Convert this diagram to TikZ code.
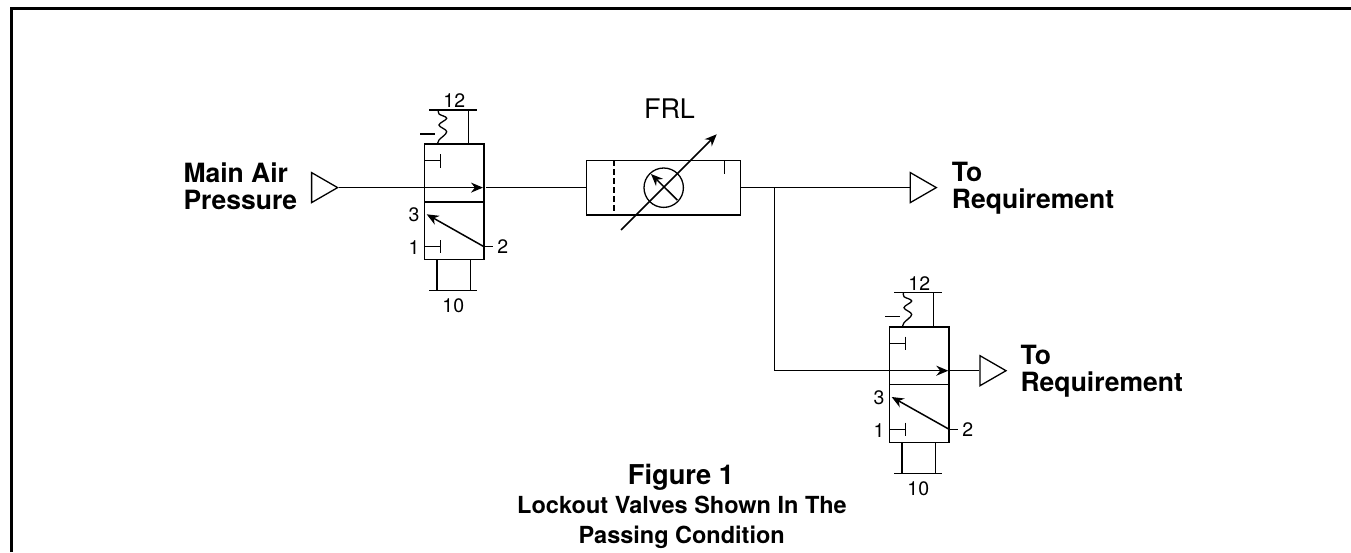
\documentclass[tikz,border=0pt]{standalone}
\usepackage{fontspec}
\setmainfont{TeX Gyre Heros}
\usetikzlibrary{arrows.meta,shapes.geometric}
\tikzset{
  pipe/.style={draw,line width=1.5pt},
  flow/.style={draw,line width=1.5pt,-{Stealth[length=12pt,width=10pt]}},
  valvebox/.style={draw,line width=1.5pt,rectangle,inner sep=0pt,minimum width=59.7pt,minimum height=115.7pt},
  port/.style={draw,line width=1.3pt,isosceles triangle,isosceles triangle stretches,inner sep=0pt,minimum width=30pt,minimum height=26pt,anchor=apex},
  num/.style={inner sep=0pt,font=\fontsize{19.5}{20}\selectfont},
  bigtext/.style={inner sep=0pt,align=left,anchor=west,font=\fontsize{26.5}{26.6}\selectfont\bfseries}
}
\begin{document}
\begin{tikzpicture}[x=1pt,y=-1pt]
\useasboundingbox (0,0) rectangle (1351,552);
% frame
\coordinate (fa) at (11.2,552);
\coordinate (fb) at (11.2,8.8);
\coordinate (fc) at (1351,8.8);
\path[draw,line width=2.8pt] (fa) -- (fb) -- (fc);

% first valve
\node[valvebox] (v1) at (454.15,201.85) {};
\node[port] (in) at (339.3,187.6) {};
\coordinate (a1) at (483,187.6);
\coordinate (b1) at (486,187.6);
\path[flow] (in.apex) -- (a1);
\path[pipe] (424.3,202) -- (484,202);
\path[pipe] (424.3,160.7) -- (440.7,160.7);
\path[pipe] (440.7,154) -- (440.7,167.7);
\path[pipe] (424.3,246.7) -- (440.7,246.7);
\path[pipe] (440.7,240) -- (440.7,253);
\coordinate (c1) at (484,246.7);
\coordinate (d1) at (426.7,214.3);
\path[flow] (c1) -- (d1);
\path[pipe] (484,246.7) -- (492.7,246.7);
\path[pipe] (429.3,110) -- (476.7,110);
\path[pipe] (468.7,110) -- (468.7,144);
\path[draw,line width=1.3pt] plot[smooth,tension=0.6] coordinates {(438.5,110) (439,114) (446.7,118.3) (439,125) (446.7,131.7) (439,140) (437.7,144)};
\path[pipe] (420,134) -- (435,134);
\path[pipe] (437,259.7) -- (437,290.7);
\path[pipe] (470.3,259.7) -- (470.3,290.7);
\path[pipe] (429.3,290.7) -- (477,290.7);
\node[num] (n12a) at (454.3,101) {12};
\node[num] (n10a) at (453.3,305.7) {10};
\node[num] (n3a) at (414,215) {3};
\node[num] (n1a) at (414,247.7) {1};
\node[num] (n2a) at (502.7,246.7) {2};

% FRL
\node[draw,line width=1.5pt,rectangle,inner sep=0pt,minimum width=154.4pt,minimum height=54.7pt] (frl) at (663.5,187.6) {};
\node[draw,line width=1.3pt,circle,inner sep=0pt,minimum size=39.4pt] (gauge) at (663.7,187.7) {};
\path[pipe] (b1) -- (frl.west);
\path[pipe,dash pattern=on 6pt off 3pt] (614,160.3) -- (614,215);
\path[pipe] (724.7,160.3) -- (724.7,174.3);
\coordinate (e1) at (621,230);
\coordinate (e2) at (716.7,134.3);
\path[flow] (e1) -- (e2);
\coordinate (g1) at (677.3,200);
\coordinate (g2) at (651,174);
\path[flow] (g1) -- (g2);
\node[inner sep=0pt,font=\fontsize{27}{27}\selectfont] (frltxt) at (669.5,108.3) {FRL};

% outlets
\node[port] (out1) at (938,187.6) {};
\coordinate (tee) at (774.7,187.6);
\path[pipe] (frl.east) -- (out1.lower side);
\node[valvebox] (v2) at (919.3,384.6) {};
\node[port] (out2) at (1007.7,370.7) {};
\coordinate (a2) at (948.3,370.7);
\coordinate (b2) at (949.3,370.7);
\path[flow] (tee) |- (a2);
\path[pipe] (b2) -- (out2.lower side);

% second valve
\path[pipe] (889.3,384.4) -- (949.3,384.4);
\path[pipe] (889.3,343.4) -- (905.7,343.4);
\path[pipe] (905.7,336.7) -- (905.7,350.4);
\path[pipe] (889.3,429.4) -- (905.7,429.4);
\path[pipe] (905.7,422.7) -- (905.7,435.7);
\coordinate (c2) at (949.3,429.4);
\coordinate (d2) at (891.7,397);
\path[flow] (c2) -- (d2);
\path[pipe] (949.3,429.4) -- (957.7,429.4);
\path[pipe] (894.3,292.7) -- (941.7,292.7);
\path[pipe] (933.7,292.7) -- (933.7,326.7);
\path[draw,line width=1.3pt] plot[smooth,tension=0.6] coordinates {(903.5,292.7) (904,296.7) (911.7,301) (904,307.7) (911.7,314.4) (904,322.7) (902.7,326.7)};
\path[pipe] (885,316.7) -- (900,316.7);
\path[pipe] (902,442.4) -- (902,473.4);
\path[pipe] (935.3,442.4) -- (935.3,473.4);
\path[pipe] (894.3,473.4) -- (942,473.4);
\node[num] (n12b) at (919.3,283.7) {12};
\node[num] (n10b) at (918.3,488.4) {10};
\node[num] (n3b) at (879,397.7) {3};
\node[num] (n1b) at (879,430.4) {1};
\node[num] (n2b) at (967.7,429.4) {2};

% labels
\node[bigtext] (maintxt) at (183.3,186.5) {Main Air\\Pressure};
\node[bigtext] (req1) at (951.7,188.5) {To\\Requirement};
\node[bigtext] (req2) at (1020.4,371.2) {To\\Requirement};
\node[inner sep=0pt,anchor=base,font=\fontsize{27.3}{27}\selectfont\bfseries] (figtxt) at (681,484) {Figure 1};
\node[inner sep=0pt,anchor=base,font=\fontsize{23.5}{24}\selectfont\bfseries] (cap1) at (682,513.3) {Lockout Valves Shown In The};
\node[inner sep=0pt,anchor=base,font=\fontsize{23.5}{24}\selectfont\bfseries] (cap2) at (681.7,543.3) {Passing Condition};
\end{tikzpicture}
\end{document}
